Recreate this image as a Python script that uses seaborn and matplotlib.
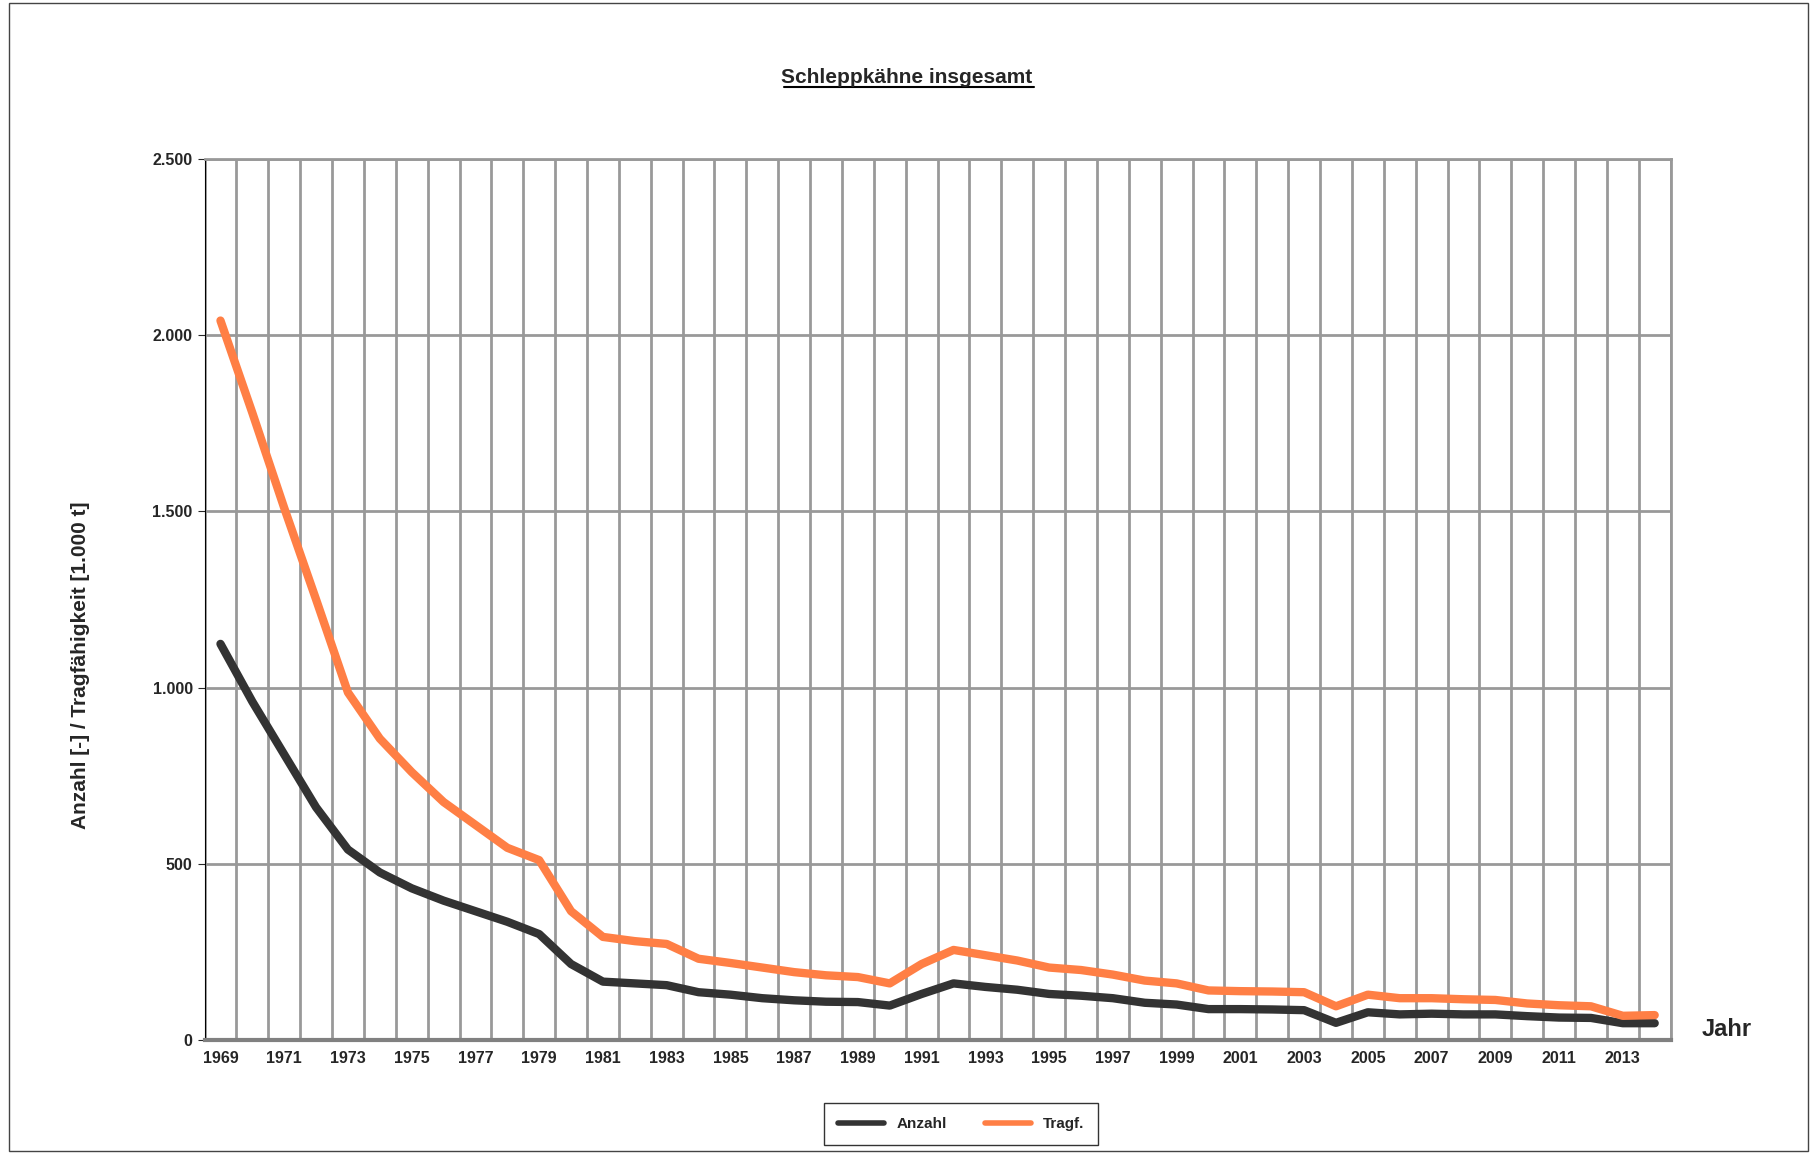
import matplotlib
matplotlib.use('Agg')
import matplotlib.pyplot as plt
import numpy as np
import pandas as pd
import seaborn as sns
from matplotlib.patches import Rectangle
from matplotlib.ticker import FuncFormatter, MultipleLocator

years = list(range(1969, 2015))
anzahl = [1124, 960, 810, 660, 540, 475, 430, 395, 365, 335, 300, 215, 165, 160, 155, 135,
          128, 118, 112, 108, 107, 97, 130, 160, 150, 142, 130, 125, 118, 105, 100, 87,
          87, 86, 84, 48, 78, 72, 74, 72, 72, 67, 63, 62, 47, 47]
tragf = [2042, 1780, 1510, 1250, 986, 855, 760, 675, 610, 545, 510, 365, 292, 280, 272, 230,
         218, 205, 192, 183, 178, 160, 215, 255, 240, 225, 205, 198, 185, 168, 160, 140,
         138, 137, 135, 95, 128, 118, 118, 115, 113, 103, 98, 95, 68, 70]

df = pd.DataFrame({'pos': np.arange(len(years)), 'Anzahl': anzahl, 'Tragf.': tragf})
tidy = df.melt(id_vars='pos', var_name='Reihe', value_name='Wert')

sns.set_style('white')
plt.rcParams['font.family'] = ['Liberation Sans', 'DejaVu Sans']
plt.rcParams['font.weight'] = 'bold'

fig = plt.figure(figsize=(18.1, 11.54), dpi=100)
ax = fig.add_axes([0.113, 0.099, 0.81, 0.763])
sns.lineplot(data=tidy, x='pos', y='Wert', hue='Reihe', palette=['#333333', '#FF7F45'],
             linewidth=6, ax=ax, legend=False, solid_capstyle='round', solid_joinstyle='round')

ax.set_xlim(-0.5, len(years) - 0.5)
ax.set_ylim(0, 2500)
ax.yaxis.set_major_locator(MultipleLocator(500))
ax.yaxis.set_major_formatter(FuncFormatter(lambda v, p: f'{int(v):,}'.replace(',', '.')))
ax.set_xticks(np.arange(0, len(years), 2))
ax.set_xticklabels([str(y) for y in years[::2]])
ax.set_xticks(np.arange(-0.5, len(years), 1), minor=True)
ax.tick_params(axis='x', which='major', length=0, labelsize=11.5, pad=8)
ax.tick_params(axis='x', which='minor', length=5, color='#808080', width=1.5, direction='out')
ax.tick_params(axis='y', length=5, labelsize=11.5, direction='out', left=True)
ax.grid(True, axis='y', which='major', color='#999999', linewidth=2)
ax.grid(True, axis='x', which='minor', color='#999999', linewidth=2)
ax.grid(False, axis='x', which='major')
ax.set_axisbelow(True)
for s in ['top', 'right']:
    ax.spines[s].set_color('#999999')
    ax.spines[s].set_linewidth(2)
ax.spines['left'].set_color('black')
ax.spines['bottom'].set_color('#808080')
ax.spines['bottom'].set_linewidth(3)

ax.set_xlabel('')
ax.set_ylabel('Anzahl [-] / Tragfähigkeit [1.000 t]', fontsize=15, fontweight='bold')
ax.yaxis.set_label_coords(-0.078, 0.425)
fig.text(0.501, 0.933, 'Schleppkähne insgesamt', ha='center', va='center', fontsize=15,
         fontweight='bold')
fig.add_artist(plt.Line2D([0.433, 0.571], [0.925, 0.925], color='black', linewidth=1.5))
fig.text(0.954, 0.108, 'Jahr', ha='center', va='center', fontsize=17, fontweight='bold')

handles = [plt.Line2D([], [], color='#333333', linewidth=4),
           plt.Line2D([], [], color='#FF7F45', linewidth=4)]
leg = fig.legend(handles, ['Anzahl', 'Tragf.'], loc='center', bbox_to_anchor=(0.531, 0.026),
                 ncol=2, fontsize=11, frameon=True, fancybox=False, edgecolor='black',
                 handlelength=3, columnspacing=2.5, borderpad=0.9)
leg.get_frame().set_linewidth(1)

fig.add_artist(Rectangle((0.005, 0.003), 0.994, 0.994, transform=fig.transFigure,
                         fill=False, edgecolor='#444444', linewidth=1))
fig.savefig('out.png', dpi=100)
